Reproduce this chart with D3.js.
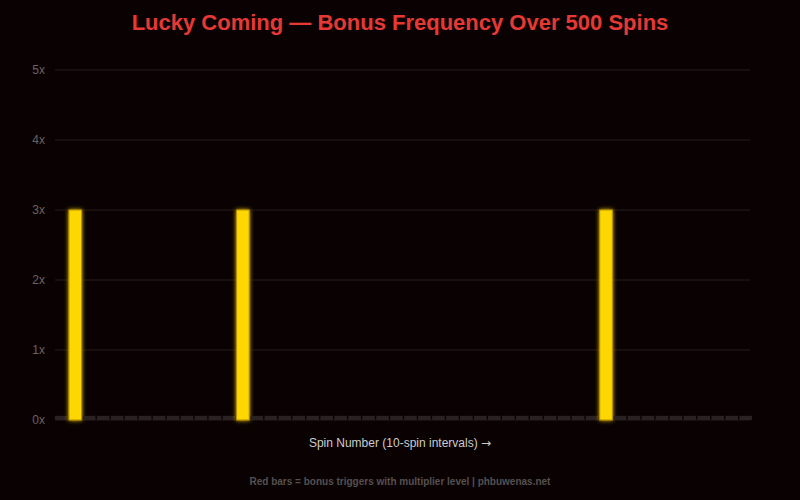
<!DOCTYPE html>
<html><head><meta charset="utf-8">
<script src="https://cdn.jsdelivr.net/npm/d3@7"></script>
<style>html,body{margin:0;padding:0;background:#0a0202;}</style>
</head><body>
<svg id="c" width="800" height="500"></svg>
<script>
const intervals = d3.range(1, 51).map(i => i * 10);
const values = [0.06,3,0.06,0.06,0.06,0.06,0.06,0.06,0.06,0.06,
                0.06,0.06,0.06,3,0.06,0.06,0.06,0.06,0.06,0.06,
                0.06,0.06,0.06,0.06,0.06,0.06,0.06,0.06,0.06,0.06,
                0.06,0.06,0.06,0.06,0.06,0.06,0.06,0.06,0.06,3,
                0.06,0.06,0.06,0.06,0.06,0.06,0.06,0.06,0.06,0.06];
const yTicks = [0,1,2,3,4,5];

(function(){
const svg = d3.select("#c");
svg.append("rect").attr("width",800).attr("height",500).attr("fill","#0a0202");
const defs = svg.append("defs");
const f = defs.append("filter").attr("id","glow").attr("x","-50%").attr("y","-20%").attr("width","200%").attr("height","140%");
f.append("feGaussianBlur").attr("in","SourceGraphic").attr("stdDeviation",2).attr("result","b");
const m = f.append("feMerge"); m.append("feMergeNode").attr("in","b"); m.append("feMergeNode").attr("in","SourceGraphic");

const mLeft=55, mRight=752, mTop=70, mBottom=420;
const x = d3.scaleBand().domain(intervals).range([mLeft,mRight]).paddingInner(0.1).paddingOuter(0.0);
const y = d3.scaleLinear().domain([0,5]).range([mBottom,mTop]);

const g = svg.append("g");
g.selectAll(".grid").data(yTicks).join("line")
 .attr("x1",mLeft).attr("x2",750).attr("y1",d=>y(d)).attr("y2",d=>y(d))
 .attr("stroke","#241a1a").attr("stroke-width",1);

const yAxis = d3.axisLeft(y).tickValues(yTicks).tickFormat(d=>d+"x").tickSize(0).tickPadding(10);
const ya = svg.append("g").attr("transform",`translate(${mLeft},0)`).call(yAxis);
ya.select(".domain").remove();
ya.selectAll("text").attr("fill","#6a6262").attr("font-size","12px").attr("font-family","Liberation Sans, Arial, sans-serif");

svg.selectAll(".bar").data(values).join("rect")
 .attr("x",(d,i)=>x(intervals[i]))
 .attr("width",x.bandwidth())
 .attr("y",d=>y(d))
 .attr("height",d=>y(0)-y(d))
 .attr("fill",d=>d>=1?"#ffd700":"#2a2222")
 .attr("stroke",d=>d>=1?"#b8900a":"none")
 .attr("stroke-width",1)
 .attr("filter",d=>d>=1?"url(#glow)":null);

svg.append("text").attr("x",400).attr("y",30).attr("text-anchor","middle")
 .attr("fill","#e53935").attr("font-size","22px").attr("font-weight","bold")
 .attr("font-family","Liberation Sans, Arial, sans-serif")
 .text("Lucky Coming — Bonus Frequency Over 500 Spins");
const ax = svg.append("text").attr("x",400).attr("y",447).attr("text-anchor","middle")
 .attr("fill","#cccccc").attr("font-size","12px")
 .attr("font-family","Liberation Sans, Arial, sans-serif");
ax.append("tspan").text("Spin Number (10-spin intervals) ");
ax.append("tspan").attr("font-family","DejaVu Sans").text("→");
svg.append("text").attr("x",400).attr("y",485).attr("text-anchor","middle")
 .attr("fill","#555050").attr("font-size","10px").attr("font-weight","bold")
 .attr("font-family","Liberation Sans, Arial, sans-serif")
 .text("Red bars = bonus triggers with multiplier level | phbuwenas.net");
})();
</script>
</body></html>
